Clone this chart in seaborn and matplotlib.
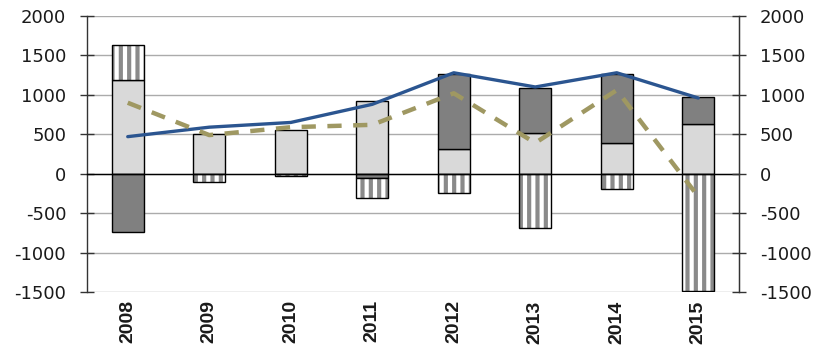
import numpy as np
import matplotlib
matplotlib.use("Agg")
import matplotlib.pyplot as plt
import matplotlib.transforms as mtransforms
import seaborn as sns

years = ["2008", "2009", "2010", "2011", "2012", "2013", "2014", "2015"]
light_pos = [1190, 500, 555, 920, 310, 520, 390, 630]
dark_pos = [0, 0, 0, 0, 960, 570, 880, 340]
stripe_pos = [440, 0, 0, 0, 0, 0, 0, 0]
dark_neg = [-740, 0, 0, -60, 0, 0, 0, 0]
stripe_neg = [0, -110, -30, -250, -250, -690, -200, -1490]
blue_line = [470, 590, 650, 880, 1280, 1100, 1280, 960]
dashed_line = [900, 490, 590, 620, 1020, 390, 1060, -290]
yticks = [-1500, -1000, -500, 0, 500, 1000, 1500, 2000]

sns.set_style("white")
plt.rcParams["font.family"] = ["DejaVu Sans"]
plt.rcParams["axes.unicode_minus"] = False
plt.rcParams["hatch.linewidth"] = 3.0

LIGHT = "#d9d9d9"
DARK = "#808080"
STRIPE = "#8a8a8a"
BLUE = "#2b5590"
OLIVE = "#9f9862"
W = 0.39

fig = plt.figure(figsize=(8.13, 3.5), dpi=100)
ax = fig.add_axes([87 / 813, 1 - 292 / 350, (739 - 87) / 813, (292 - 16) / 350])

x = np.arange(len(years))
light_pos = np.array(light_pos); dark_pos = np.array(dark_pos)
stripe_pos = np.array(stripe_pos); dark_neg = np.array(dark_neg)
stripe_neg = np.array(stripe_neg)

# grid
for t in yticks:
    ax.axhline(t, color="#ababab", lw=1.0, zorder=0)

# light base layer via seaborn
sns.barplot(x=x, y=light_pos, color=LIGHT, saturation=1, width=W,
            edgecolor="black", linewidth=1.0, ax=ax, zorder=2, native_scale=True)
# dark positive
ax.bar(x, dark_pos, W, bottom=light_pos, color=DARK, edgecolor="black", lw=1.0, zorder=2)

def striped(vals, bottom):
    ax.bar(x, vals, W, bottom=bottom, facecolor="white", edgecolor=STRIPE,
           hatch="||", lw=0, zorder=2)
    ax.bar(x, vals, W, bottom=bottom, fill=False, edgecolor="black", lw=1.0, zorder=3)

# stripes positive
striped(stripe_pos, light_pos + dark_pos)
# dark negative
ax.bar(x, dark_neg, W, color=DARK, edgecolor="black", lw=1.0, zorder=2)
# stripes negative
striped(stripe_neg, dark_neg)

# hide zero-height bar outlines
for p in list(ax.patches):
    if abs(p.get_height()) < 1e-9:
        p.set_visible(False)

# lines
sns.lineplot(x=x, y=blue_line, color=BLUE, lw=2.4, ax=ax, zorder=5)
sns.lineplot(x=x, y=dashed_line, color=OLIVE, lw=3.2, ax=ax, zorder=6)
ax.lines[-1].set_dashes([3.2, 2.6])
ax.lines[-1].set_solid_capstyle("butt")

ax.set_xlim(-0.5, len(years) - 0.5)
ax.set_ylim(-1500, 2000)
ax.set_yticks(yticks)

# zero axis with boundary ticks
ax.spines["bottom"].set_position(("data", 0))
ax.spines["bottom"].set_color("black")
ax.spines["bottom"].set_linewidth(1.0)
ax.spines["bottom"].set_zorder(4)
ax.spines["top"].set_visible(False)
ax.set_xticks(x)
ax.set_xticks(x[:-1] + 0.5, minor=True)
ax.tick_params(axis="x", which="major", length=0, labelbottom=False)
ax.tick_params(axis="x", which="minor", length=6, width=1, direction="out", color="black")

for s in ("left", "right"):
    ax.spines[s].set_color("#333333")
    ax.spines[s].set_linewidth(1.0)

ax.tick_params(axis="y", which="major", direction="inout", length=10, width=1,
               color="#333333", labelsize=13, labelcolor="#1a1a1a", pad=10)

ax2 = ax.twinx()
ax2.set_ylim(ax.get_ylim())
ax2.set_yticks(yticks)
for s in ("top", "bottom", "left"):
    ax2.spines[s].set_visible(False)
ax2.spines["right"].set_color("#333333")
ax2.tick_params(axis="y", which="major", direction="inout", length=10, width=1,
                color="#333333", labelsize=13, labelcolor="#1a1a1a", pad=10)

# year labels at the bottom of the plot
trans = mtransforms.blended_transform_factory(ax.transData, ax.transAxes)
for xi, yr in zip(x, years):
    ax.text(xi, -0.03, yr, transform=trans, rotation=90, ha="center", va="top",
            fontsize=14, fontweight="bold", family=["Liberation Sans", "DejaVu Sans"],
            color="#1a1a1a")

fig.savefig("out.png", dpi=100)
